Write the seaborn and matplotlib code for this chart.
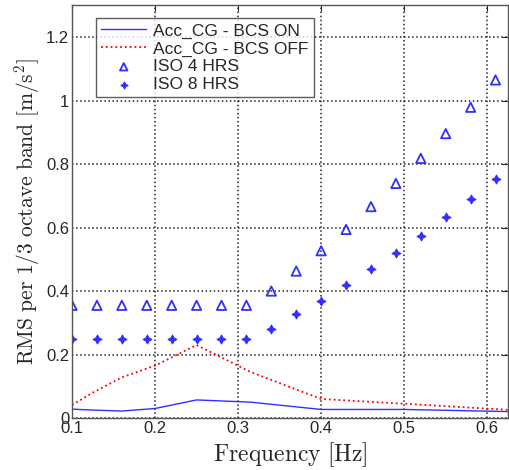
import numpy as np
import pandas as pd
import seaborn as sns
import matplotlib.pyplot as plt
from matplotlib.ticker import FuncFormatter

# 1/3 octave band centres used for the measured curves
band_freq = [0.1, 0.125, 0.16, 0.2, 0.25, 0.315, 0.4, 0.5, 0.63]
bcs_on = [0.028, 0.025, 0.022, 0.030, 0.057, 0.050, 0.027, 0.027, 0.020]
bcs_off = [0.041, 0.080, 0.128, 0.165, 0.230, 0.145, 0.060, 0.045, 0.025]

# ISO limit points
iso_freq = [0.10, 0.13, 0.16, 0.19, 0.22, 0.25, 0.28, 0.31, 0.34,
            0.37, 0.40, 0.43, 0.46, 0.49, 0.52, 0.55, 0.58, 0.61]
iso_4hrs = [0.355, 0.355, 0.355, 0.355, 0.355, 0.355, 0.355, 0.355, 0.40,
            0.463, 0.527, 0.594, 0.666, 0.739, 0.818, 0.896, 0.979, 1.065]
iso_8hrs = [0.25, 0.25, 0.25, 0.25, 0.25, 0.25, 0.25, 0.25, 0.28,
            0.327, 0.369, 0.419, 0.469, 0.521, 0.574, 0.634, 0.691, 0.753]

sns.set_style("white")
plt.rcParams["font.family"] = ["Liberation Sans", "DejaVu Sans"]
plt.rcParams["mathtext.fontset"] = "cm"

fig = plt.figure(figsize=(5.09, 4.70), dpi=100)
ax = fig.add_axes([0.1415, 0.1106, 0.8565, 0.878])

lines = pd.DataFrame({"f": band_freq, "on": bcs_on, "off": bcs_off})
iso = pd.DataFrame({"f": iso_freq, "h4": iso_4hrs, "h8": iso_8hrs})

sns.lineplot(data=lines, x="f", y="on", ax=ax, color="#3030ff", linewidth=1.0,
             label="Acc_CG - BCS ON")
sns.lineplot(data=lines, x="f", y="off", ax=ax, color="red", linewidth=1.3,
             linestyle=":", label="Acc_CG - BCS OFF")
sns.scatterplot(data=iso, x="f", y="h4", ax=ax, marker="^", s=45,
                facecolor="none", edgecolor="#3030ff", linewidth=1.3,
                label="ISO 4 HRS")
sns.scatterplot(data=iso, x="f", y="h8", ax=ax, marker=(4, 1, 0), s=40,
                color="#3030ff", edgecolor="#3030ff", linewidth=0.8,
                label="ISO 8 HRS")

ax.set_xlim(0.1, 0.625)
ax.set_ylim(0, 1.3)
ax.set_xticks([0.1, 0.2, 0.3, 0.4, 0.5, 0.6])
ax.set_yticks([0, 0.2, 0.4, 0.6, 0.8, 1.0, 1.2])
fmt = FuncFormatter(lambda v, p: "%g" % round(v, 3))
ax.xaxis.set_major_formatter(fmt)
ax.yaxis.set_major_formatter(fmt)
ax.tick_params(direction="in", labelsize=12, length=4, top=True, right=True,
               pad=2)
ax.grid(True, linestyle=":", color="#222222", linewidth=1.1)
for s in ax.spines.values():
    s.set_color("#555555")
    s.set_linewidth(1.0)

ax.set_xlabel(r"$\mathrm{Frequency\ [Hz]}$", fontsize=17, labelpad=3)
ax.set_ylabel(r"$\mathrm{RMS\ per\ 1/3\ octave\ band\ [m/s^2]}$", fontsize=15.5,
              labelpad=3)

leg = ax.legend(loc="upper left", bbox_to_anchor=(0.035, 0.99), fontsize=12.5,
                frameon=True, fancybox=False, edgecolor="#333333",
                handlelength=2.6, borderpad=0.3, labelspacing=0.15,
                markerscale=0.8, handletextpad=0.4)
leg.get_frame().set_linewidth(1.0)

fig.savefig("out.png", dpi=100)
